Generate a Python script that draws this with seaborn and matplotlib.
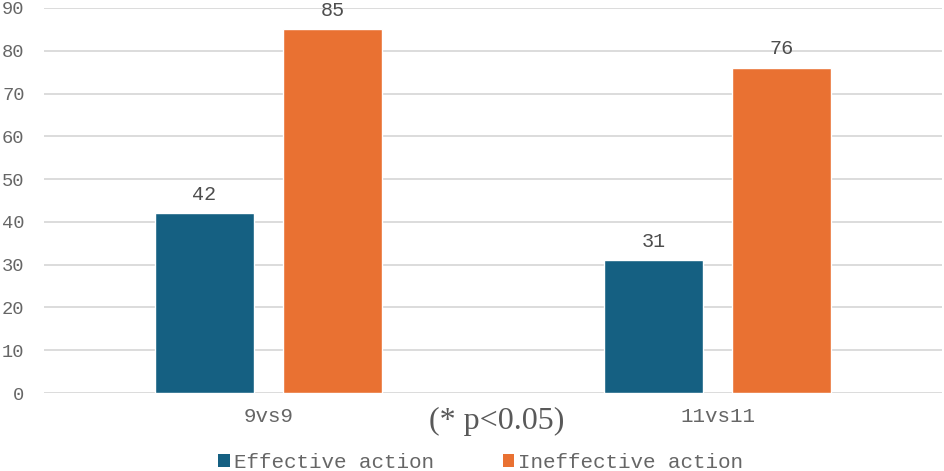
import matplotlib
matplotlib.use("Agg")
import matplotlib.pyplot as plt
import seaborn as sns
import pandas as pd
from matplotlib.patches import Patch

categories = ["9vs9", "11vs11"]
series_names = ["Effective action", "Ineffective action"]
effective = [42, 31]
ineffective = [85, 76]
yticks = [0, 10, 20, 30, 40, 50, 60, 70, 80, 90]
colors = ["#156082", "#E97132"]

df = pd.DataFrame({
    "cat": categories * 2,
    "series": [series_names[0]] * 2 + [series_names[1]] * 2,
    "value": effective + ineffective,
})

sns.set_theme(style="white")
plt.rcParams["font.family"] = ["Liberation Mono", "DejaVu Sans"]

fig = plt.figure(figsize=(9.44, 4.71), dpi=100)
ax = fig.add_axes([44 / 944, 1 - 393 / 471, 898 / 944, 385 / 471])

sns.barplot(data=df, x="cat", y="value", hue="series", order=categories,
            hue_order=series_names, palette=colors, width=0.57, gap=0.22,
            saturation=1, ax=ax, legend=False)

txt = "#666666"
ax.set_xlim(-0.5, 1.5)
ax.set_ylim(0, 90)
ax.set_yticks(yticks)
ax.yaxis.grid(True, color="#d9d9d9", linewidth=1.3)
ax.set_axisbelow(True)
for s in ax.spines.values():
    s.set_visible(False)
ax.set_xlabel("")
ax.set_ylabel("")
ax.tick_params(axis="y", length=0, pad=14, labelsize=13.5, labelcolor=txt)
ax.tick_params(axis="x", length=0, pad=10, labelsize=15, labelcolor=txt)

for cont in ax.containers:
    ax.bar_label(cont, padding=7, fontsize=14.5, color="#4d4d4d")

fig.text(497 / 944, 1 - 421 / 471, "(* p<0.05)", family="Liberation Serif",
         fontsize=23, color="#595959", ha="center", va="center")

handles = [Patch(facecolor=c, edgecolor="none") for c in colors]
fig.legend(handles, series_names, loc="center", bbox_to_anchor=(481 / 944, 1 - 462 / 471),
           ncol=2, frameon=False, fontsize=15, handlelength=0.55, handleheight=0.6,
           handletextpad=0.2, columnspacing=3.3, labelcolor=txt)

fig.savefig("out.png", dpi=100)
